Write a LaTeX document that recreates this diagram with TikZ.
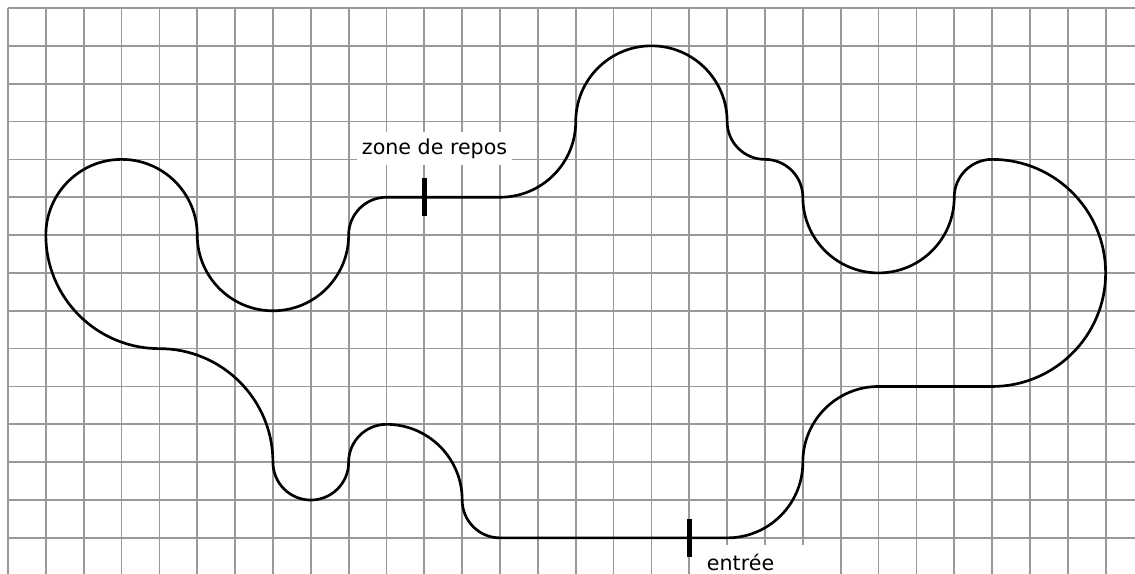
\documentclass[tikz,border=0pt]{standalone}
\usepackage{fontspec}
\setmainfont{DejaVu Sans}
\usetikzlibrary{calc}

\begin{document}
\begin{tikzpicture}[
        gridline/.style={black!40, line width=1.3pt},
        track/.style={line width=2pt, line join=round},
        tickmark/.style={line width=4pt},
        labelbox/.style={fill=white, inner sep=0pt, font=\fontsize{15.5}{18}\selectfont}]
        \useasboundingbox (-0.211,0.211) rectangle (29.776,-14.954);
        \draw[gridline] (0,-14.954) grid (29.776,0.01);
        % circuit
        \draw[track] (10,-5) -- (13,-5)
            arc[start angle=-90, end angle=0, radius=2]
            arc[start angle=180, end angle=0, radius=2]
            arc[start angle=180, end angle=270, radius=1]
            arc[start angle=90, end angle=0, radius=1]
            arc[start angle=180, end angle=360, radius=2]
            arc[start angle=180, end angle=90, radius=1]
            arc[start angle=90, end angle=-90, radius=3]
            -- (23,-10)
            arc[start angle=90, end angle=180, radius=2]
            arc[start angle=0, end angle=-90, radius=2]
            -- (13,-14)
            arc[start angle=270, end angle=180, radius=1]
            arc[start angle=0, end angle=90, radius=2]
            arc[start angle=90, end angle=180, radius=1]
            arc[start angle=0, end angle=-180, radius=1]
            arc[start angle=0, end angle=90, radius=3]
            arc[start angle=270, end angle=180, radius=3]
            arc[start angle=180, end angle=0, radius=2]
            arc[start angle=180, end angle=360, radius=2]
            arc[start angle=180, end angle=90, radius=1] -- cycle;
        % labels
        \node[labelbox, minimum width=4.1cm, minimum height=0.87cm] (repos) at (11.27,-3.71)
              {zone de repos};
        \node[labelbox, anchor=north west, text width=2.5cm, inner xsep=0.34cm, inner ysep=0.22cm]
              (entree) at (18.12,-14.19) {entrée};
        \coordinate (pause) at (11,-5);
        \coordinate (depart) at (18,-14);
        \draw[tickmark] ([yshift=0.5cm]pause) -- ([yshift=-0.5cm]pause);
        \draw[tickmark] ([yshift=0.5cm]depart) -- ([yshift=-0.5cm]depart);
    \end{tikzpicture}
\end{document}
